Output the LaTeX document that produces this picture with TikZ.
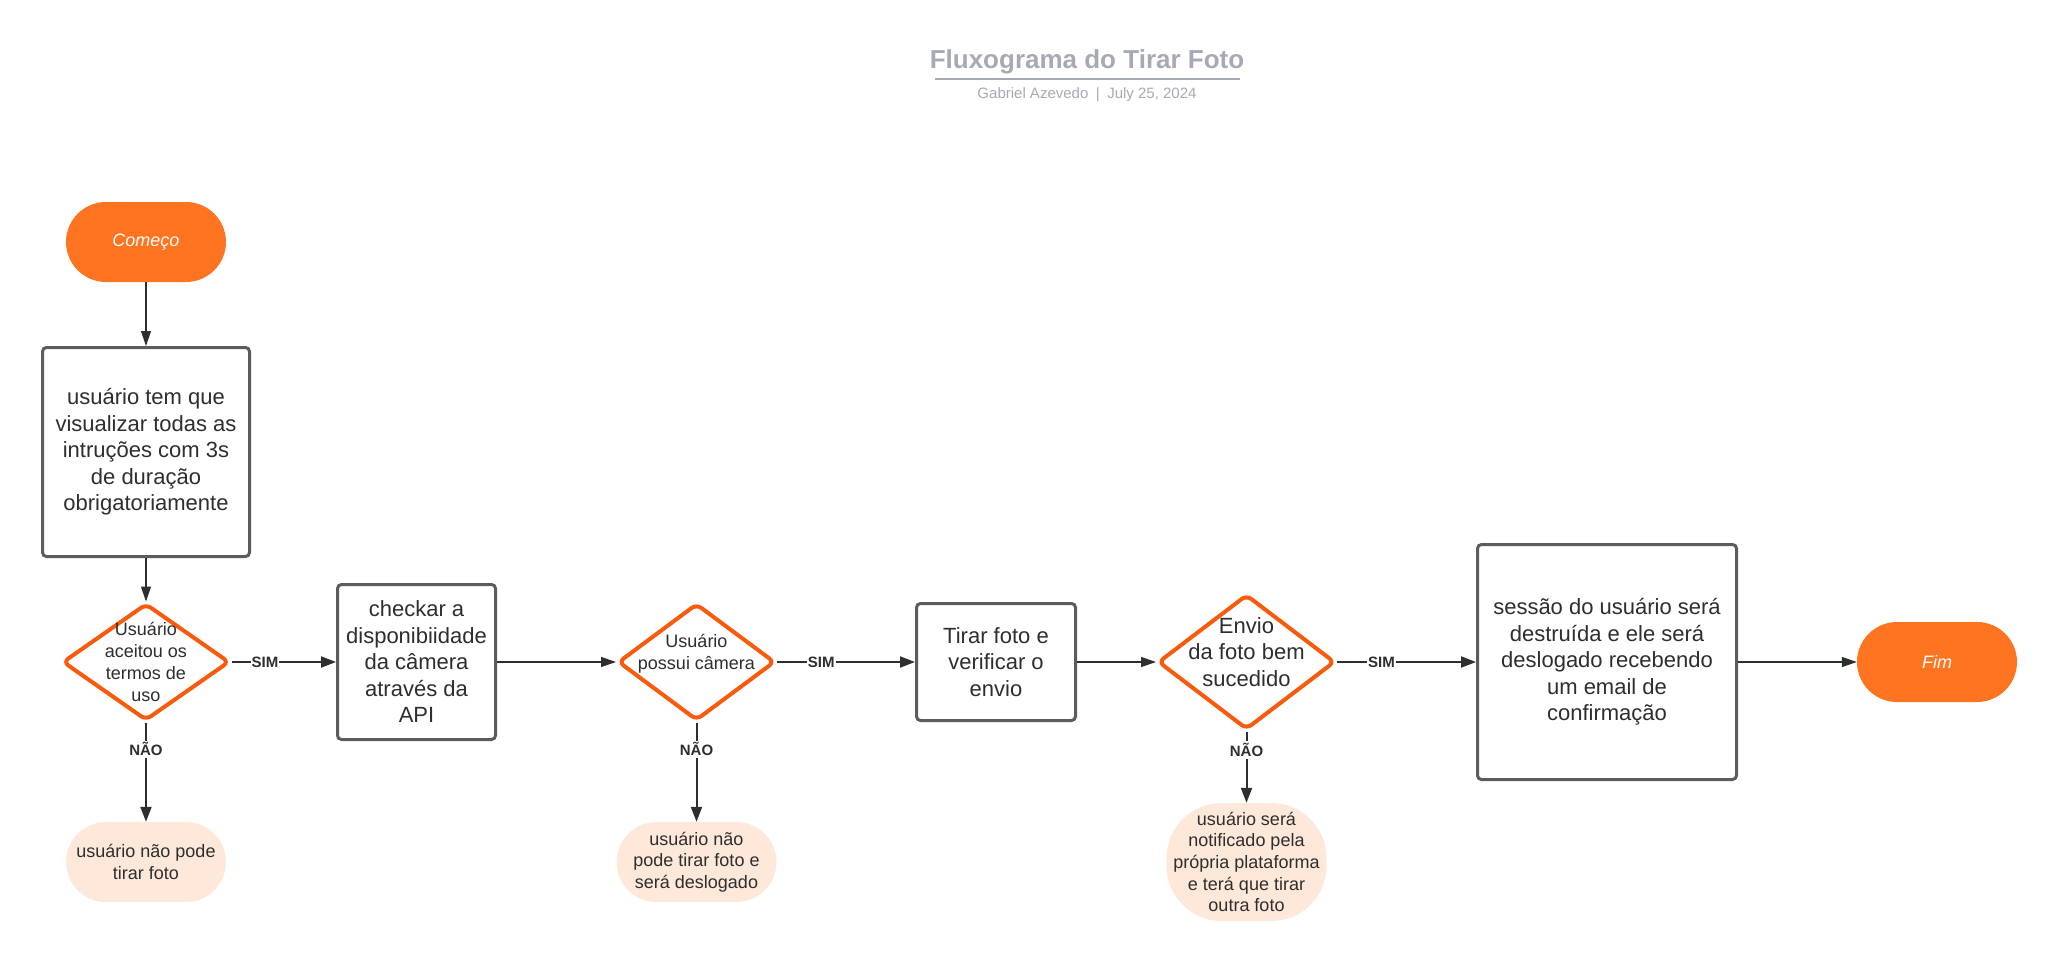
\documentclass[tikz,border=0pt]{standalone}
\usepackage{fontspec}
\setmainfont{Liberation Sans}
\usepackage{xcolor}
\usepackage{tikz}
\usetikzlibrary{arrows.meta,shapes.geometric}

\definecolor{lucidorange}{HTML}{FE7420}
\definecolor{decisionred}{HTML}{FA5A0C}
\definecolor{peach}{HTML}{FEE8DA}
\definecolor{boxgray}{HTML}{5C5C5C}
\definecolor{inkgray}{HTML}{2E2E2E}
\definecolor{titlegray}{HTML}{A5AAB5}

\tikzset{
  startstop/.style={rectangle, rounded corners=40pt, fill=lucidorange, text=white, minimum width=160pt, minimum height=80pt, font=\fontsize{18}{22}\selectfont\itshape},
  process/.style={rectangle, draw=boxgray, line width=3pt, rounded corners=4pt, fill=white, text=inkgray, align=center, font=\fontsize{22}{26.5}\selectfont},
  decision/.style={diamond, draw=decisionred, line width=4pt, rounded corners=6pt, fill=white, inner sep=0pt},
  dtext/.style={align=center, text=inkgray, inner sep=0pt, font=\fontsize{18}{21.7}\selectfont},
  outcome/.style={rectangle, rounded corners=40pt, fill=peach, text=inkgray, align=center, minimum width=160pt, minimum height=80pt, font=\fontsize{18}{21.7}\selectfont},
  flow/.style={-{Triangle[length=15pt,width=11pt]}, draw=inkgray, line width=2pt},
  thinflow/.style={-{Triangle[length=15pt,width=10pt]}, draw=inkgray, line width=1.2pt},
  answer/.style={fill=white, inner sep=2pt, text=inkgray, font=\fontsize{15}{18}\selectfont\bfseries},
}

\begin{document}
\begin{tikzpicture}[x=1pt, y=-1pt]
  \useasboundingbox (0,0) rectangle (2057,961);

  % title block
  \node (title) [text=titlegray, inner sep=0pt, font=\fontsize{26}{30}\selectfont\bfseries] at (1087,62) {Fluxograma do Tirar Foto};
  \draw[titlegray, line width=2pt] ([xshift=5pt,yshift=-5pt]title.south west) -- ([xshift=-4pt,yshift=-5pt]title.south east);
  \node (byline) [text=titlegray, font=\fontsize{15}{18}\selectfont] at (1087,95) {Gabriel Azevedo\enspace|\enspace July 25, 2024};

  % steps
  \node (begin) [startstop] at (146,242) {Começo};
  \node (rules) [process, minimum width=207pt, minimum height=209pt] at (146,452) {usuário tem que\\visualizar todas as\\intruções com 3s\\de duração\\obrigatoriamente};
  \node (terms) [decision, minimum width=167pt, minimum height=117pt, label={[dtext]center:Usuário\\aceitou os\\termos de\\uso}] at (146,662) {};
  \node (refused) [outcome] at (146,862) {usuário não pode\\tirar foto};
  \node (check) [process, minimum width=158pt, minimum height=155pt] at (416.5,662) {checkar a\\disponibiidade\\da câmera\\através da\\API};
  \node (camera) [decision, minimum width=157pt, minimum height=117pt, label={[dtext, yshift=8pt]center:Usuário\\possui câmera}] at (696.5,662) {};
  \node (nocamera) [outcome] at (696.5,862) {usuário não\\pode tirar foto e\\será deslogado};
  \node (shoot) [process, minimum width=159pt, minimum height=117pt] at (996,662) {Tirar foto e\\verificar o\\envio};
  \node (sent) [decision, minimum width=177pt, minimum height=135pt, label={[dtext, yshift=10pt, font=\fontsize{22}{26.5}\selectfont]center:Envio\\da foto bem\\sucedido}] at (1246.5,662) {};
  \node (retry) [outcome, minimum height=118pt, rounded corners=55pt] at (1246.5,862) {usuário será\\notificado pela\\própria plataforma\\e terá que tirar\\outra foto};
  \node (logout) [process, minimum width=259pt, minimum height=235pt] at (1607,662) {sessão do usuário será\\destruída e ele será\\deslogado recebendo\\um email de\\confirmação};
  \node (end) [startstop] at (1937,662) {Fim};

  % connectors
  \draw[thinflow] (begin) -- (rules);
  \draw[thinflow] (rules) -- (terms);
  \draw[flow] (terms) -- node[answer, inner sep=1pt, pos=0.32] {SIM} (check);
  \draw[flow] (terms) -- node[answer, pos=0.27] {NÃO} (refused);
  \draw[thinflow] (check) -- (camera);
  \draw[flow] (camera) -- node[answer, inner sep=1pt, pos=0.32] {SIM} (shoot);
  \draw[flow] (camera) -- node[answer, pos=0.27] {NÃO} (nocamera);
  \draw[thinflow] (shoot) -- (sent);
  \draw[flow] (sent) -- node[answer, inner sep=1pt, pos=0.32] {SIM} (logout);
  \draw[flow] (sent) -- node[answer, pos=0.26] {NÃO} (retry);
  \draw[thinflow] (logout) -- (end);
\end{tikzpicture}
\end{document}
